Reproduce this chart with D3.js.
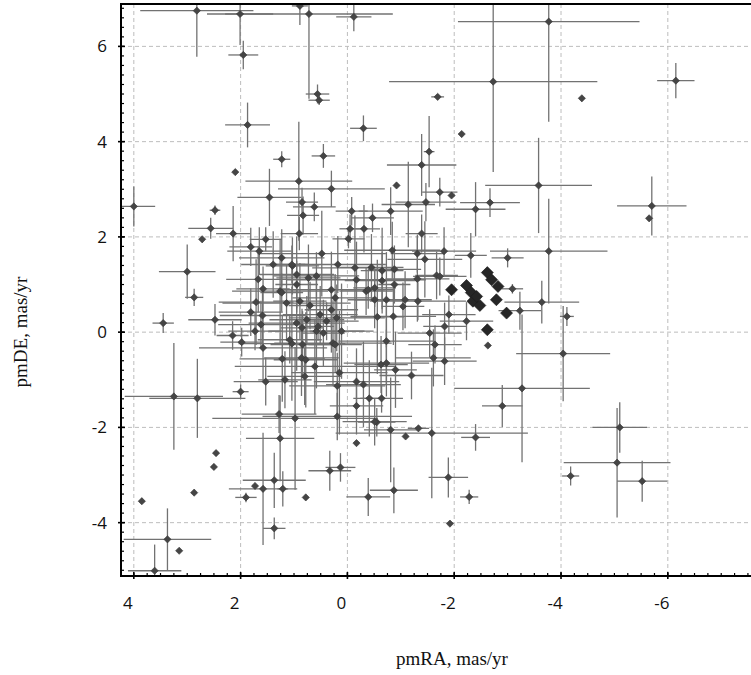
<!DOCTYPE html>
<html>
<head>
<meta charset="utf-8">
<script src="https://cdn.jsdelivr.net/npm/d3@7"></script>
<style>
  html, body { margin: 0; padding: 0; background: #fff; }
  svg { display: block; }
</style>
</head>
<body>
<svg id="chart" width="751" height="675"></svg>
<script>
// Proper motions of field stars: [pmRA, pmDE, err pmRA, err pmDE] in mas/yr
const fieldStars = [
  [2.82, 6.75, 1.06, 0.97], [2.01, 6.68, 0.62, 0.65], [0.89, 6.85, 0.15, 0.40], [0.72, 6.68, 1.57, 1.78],
  [0.56, 5.00, 0.22, 0.20], [0.53, 4.87, 0.20, 0.10], [-0.12, 6.62, 0.33, 0.30], [1.95, 5.82, 0.28, 0.30],
  [1.87, 4.35, 0.42, 0.47], [2.10, 3.36, 0, 0], [1.23, 3.63, 0.16, 0.17], [0.91, 3.17, 1.00, 1.25],
  [0.45, 3.70, 0.22, 0.25], [1.46, 2.83, 0.60, 0.60], [0.30, 3.01, 1.00, 0.38], [4.00, 2.64, 0.40, 0.42],
  [-3.77, 6.52, 1.70, 2.10], [-2.73, 5.26, 1.95, 1.90], [-1.69, 4.94, 0.12, 0], [-0.30, 4.28, 0.25, 0.27],
  [-2.14, 4.16, 0, 0], [-1.53, 3.79, 0.10, 0.75], [-1.39, 3.51, 0.65, 0.65], [-0.92, 3.08, 0, 0],
  [-3.58, 3.08, 1.00, 1.00], [-1.73, 2.94, 0.33, 0.30], [-1.95, 2.87, 0, 0], [-6.15, 5.28, 0.35, 0.37],
  [-4.39, 4.91, 0, 0], [-5.70, 2.65, 0.65, 0.62], [-5.65, 2.39, 0, 0], [-4.11, 0.33, 0.13, 0.20],
  [-4.04, -0.45, 0.88, 1.00], [-3.77, 1.70, 1.10, 1.10], [-5.10, -2.00, 0.51, 0.53], [-5.05, -2.74, 1.00, 1.15],
  [-5.52, -3.13, 0.47, 0.43], [-4.18, -3.02, 0.16, 0.20], [-3.27, -1.18, 1.27, 1.55], [-2.90, -1.55, 0.38, 0.44],
  [-2.40, -2.21, 0.27, 0.28], [-1.89, -3.05, 0.37, 0.42], [-2.28, -3.46, 0.17, 0.15], [-1.92, -4.02, 0, 0],
  [-1.58, -2.12, 1.80, 1.37], [-1.09, -2.19, 0, 0], [-1.33, -2.02, 0.20, 0], [-0.81, -2.05, 0.50, 1.10],
  [-0.55, -1.89, 0.35, 0.30], [-0.17, -2.33, 0, 0], [0.19, -1.77, 1.40, 0.50], [-0.39, -3.46, 0.41, 0.40],
  [-0.87, -3.32, 0.45, 0.48], [-0.41, -1.39, 0.30, 0.80], [-0.64, -1.39, 0.40, 0.30], [-0.17, -1.55, 0.50, 0.60],
  [-0.30, -1.10, 0.70, 0.90], [0.19, -1.13, 0.90, 0.70], [0.13, -2.84, 0.28, 0.30], [0.33, -2.91, 0.40, 0.42],
  [3.25, -1.35, 0.92, 1.12], [2.81, -1.39, 0.90, 0.83], [2.00, -1.25, 0.15, 0.15], [2.46, -2.54, 0, 0],
  [2.50, -2.83, 0, 0], [3.85, -3.55, 0, 0], [2.87, -3.37, 0, 0], [3.37, -4.35, 0.82, 0.65],
  [3.15, -4.59, 0, 0], [3.61, -5.01, 0.50, 0.55], [1.90, -3.47, 0.20, 0.10], [1.73, -3.23, 0, 0],
  [1.58, -3.29, 0.64, 1.18], [1.37, -3.11, 0.59, 0.58], [1.21, -3.29, 0.10, 0.37], [1.37, -4.12, 0.21, 0.23],
  [0.78, -3.47, 0, 0], [1.26, -2.23, 0.64, 0.90], [1.28, -1.72, 0.70, 0.40], [0.98, -1.81, 1.55, 1.50],
  [1.53, -1.04, 0.60, 0.50], [1.17, -1.00, 0.50, 0.60], [2.48, 2.56, 0.10, 0.10], [2.56, 2.18, 0.42, 0.22],
  [2.72, 1.95, 0, 0], [2.14, 2.07, 0.32, 0.58], [3.00, 1.27, 0.53, 0.57], [2.87, 0.73, 0.17, 0.18],
  [3.45, 0.19, 0.20, 0.21], [2.48, 0.26, 0.50, 0.33], [2.15, -0.07, 0.30, 0.30], [1.98, -0.21, 0.40, 0.30],
  [0.85, 2.73, 0.30, 0.30], [0.62, 2.63, 0.40, 0.30], [0.83, 2.45, 0.30, 0.40], [0.90, 2.07, 0.35, 0.35],
  [1.53, 1.95, 0.30, 0.25], [1.81, 1.79, 0.40, 0.40], [1.65, 1.70, 0.60, 0.50], [1.23, 1.56, 0.80, 0.60],
  [1.39, 1.42, 0.60, 0.70], [1.03, 1.39, 0.50, 0.60], [0.95, 1.21, 0.70, 0.80], [0.48, 1.65, 1.20, 0.90],
  [0.18, 1.42, 0.90, 0.60], [1.67, 1.11, 0.60, 0.70], [1.58, 0.91, 0.50, 0.47], [1.26, 0.86, 0.90, 1.10],
  [0.73, 1.14, 0.60, 0.70], [0.58, 1.18, 0.80, 0.50], [0.30, 0.89, 1.00, 0.80], [1.59, 0.35, 0.80, 0.60],
  [1.81, 0.42, 0.60, 0.50], [1.71, 0.63, 0.70, 0.90], [1.14, 0.61, 1.20, 0.80], [0.95, 0.19, 0.90, 1.00],
  [1.58, -0.33, 1.20, 0.70], [1.22, -0.56, 0.80, 0.90], [1.04, -0.24, 1.00, 1.20], [0.86, -0.54, 0.70, 0.80],
  [0.61, -0.72, 1.50, 1.00], [0.27, -0.23, 1.10, 0.90], [0.15, -0.85, 0.90, 1.30], [1.73, 0.02, 0.50, 0.40],
  [1.62, 0.16, 0.80, 0.50], [-0.08, 2.54, 0.30, 0.30], [-0.47, 2.40, 0.40, 0.30], [-0.31, 2.17, 0.30, 0.50],
  [-0.05, 2.17, 0.20, 0.30], [-0.02, 1.96, 0.30, 0.20], [-0.81, 2.54, 0.60, 0.50], [-1.14, 2.68, 0.50, 0.90],
  [-1.39, 2.07, 0.30, 0.40], [-0.84, 1.72, 0.90, 0.60], [-1.45, 1.53, 0.70, 0.80], [-0.14, 1.35, 0.80, 1.10],
  [-0.45, 1.36, 0.60, 0.70], [-0.65, 1.29, 0.40, 0.90], [-0.88, 1.32, 0.50, 0.50], [-1.31, 1.12, 0.60, 0.90],
  [-1.67, 1.19, 0.40, 0.50], [-0.65, 1.08, 0.70, 0.60], [-0.88, 1.00, 0.30, 0.40], [-0.17, 1.10, 1.30, 0.80],
  [-0.35, 0.86, 0.50, 0.50], [-0.51, 0.93, 0.40, 0.40], [-0.73, 0.68, 0.60, 1.00], [-1.08, 0.68, 0.50, 0.60],
  [-1.32, 0.65, 0.90, 0.40], [-1.04, 0.54, 0.40, 0.50], [-0.86, 0.33, 0.80, 0.60], [-0.56, 0.32, 0.50, 1.20],
  [-1.54, -0.02, 0.60, 0.50], [-1.64, -0.26, 0.50, 0.40], [-0.73, -0.19, 0.90, 0.90], [-0.63, -0.68, 0.50, 0.60],
  [-0.73, -0.65, 0.80, 0.70], [-0.90, -0.79, 0.40, 0.80], [-1.20, -0.91, 0.60, 0.50], [-1.61, -0.54, 0.70, 0.60],
  [-0.17, -1.04, 0.80, 0.70], [-0.51, -1.88, 0.60, 0.50], [0.78, -0.58, 0.60, 1.00], [0.80, -0.93, 0.70, 0.60],
  [0.84, -0.26, 0.60, 0.70], [0.58, 0.02, 0.90, 1.20], [0.23, -0.26, 0.50, 0.60], [0.76, 0.26, 0.70, 0.50],
  [0.89, 0.65, 0.50, 0.80], [1.23, 0.83, 0.40, 0.40], [0.70, 0.56, 0.40, 0.50], [0.51, 0.37, 0.70, 0.60],
  [0.30, 0.47, 0.50, 0.90], [0.39, 0.23, 0.60, 0.40], [0.45, -0.02, 0.40, 0.70], [0.55, 0.12, 0.30, 0.30],
  [0.23, 0.72, 0.80, 0.50], [0.95, 1.00, 0.40, 0.50], [1.04, 1.42, 0.30, 0.40], [-0.39, 0.89, 0.50, 0.40],
  [-0.51, 0.68, 0.50, 0.60], [0.20, 0.30, 0.90, 0.70], [0.11, 0.02, 0.60, 1.00], [1.08, -0.16, 0.60, 0.50],
  [0.85, 0.09, 0.40, 0.40], [-1.47, 2.73, 0.57, 0.40], [-2.67, 2.72, 0.56, 0.30], [-2.40, 2.58, 0.56, 0.57],
  [-1.31, 1.65, 0.50, 0.40], [-1.81, 1.70, 0.60, 0.50], [-2.31, 1.61, 0.30, 0.47], [-3.00, 1.56, 0.30, 0.20],
  [-3.09, 0.91, 0.20, 0.10], [-3.23, 0.45, 0.40, 0.40], [-3.64, 0.63, 0.70, 0.45], [-1.73, 1.17, 0.50, 0.40],
  [-1.90, 0.37, 0.50, 0.40], [-1.82, 0.12, 0.40, 0.50], [-2.23, 0.23, 0.50, 0.40], [-1.82, -0.61, 0.60, 0.50],
  [-2.63, -0.28, 0, 0]
];

// Probable cluster members: [pmRA, pmDE]
const memberStars = [
  [-1.95, 0.89], [-2.23, 0.98], [-2.32, 0.83], [-2.35, 0.65], [-2.48, 0.56], [-2.62, 1.25],
  [-2.70, 1.10], [-2.82, 0.96], [-2.79, 0.68], [-2.98, 0.40], [-2.62, 0.05], [-2.42, 0.75]
];

const xTicks = [4, 2, 0, -2, -4, -6];
const yTicks = [-4, -2, 0, 2, 4, 6];
const xDomain = [4.24, -8.7];
const yDomain = [-5.12, 6.89];
const xTitle = "pmRA, mas/yr";
const yTitle = "pmDE, mas/yr";

const svg = d3.select("#chart");
// the frame runs past the right edge of the page
const plot = { left: 121, right: 812, top: 4, bottom: 576 };

const x = d3.scaleLinear().domain(xDomain).range([plot.left, plot.right]);
const y = d3.scaleLinear().domain(yDomain).range([plot.bottom, plot.top]);

svg.append("defs").append("clipPath").attr("id", "plotClip")
  .append("rect")
  .attr("x", plot.left).attr("y", plot.top)
  .attr("width", plot.right - plot.left).attr("height", plot.bottom - plot.top);

// dashed major grid
const grid = svg.append("g").attr("stroke", "#bdbdbd").attr("stroke-width", 1)
  .attr("stroke-dasharray", "4,3");
grid.selectAll("line.gx").data(xTicks).join("line")
  .attr("x1", d => x(d)).attr("x2", d => x(d))
  .attr("y1", plot.top).attr("y2", plot.bottom);
grid.selectAll("line.gy").data(yTicks).join("line")
  .attr("x1", plot.left).attr("x2", plot.right)
  .attr("y1", d => y(d)).attr("y2", d => y(d));

const marks = svg.append("g").attr("clip-path", "url(#plotClip)");

// error bars
const bars = marks.append("g").attr("stroke", "#727272").attr("stroke-width", 1.3);
bars.selectAll("line.ex").data(fieldStars.filter(d => d[2] > 0)).join("line")
  .attr("x1", d => x(d[0] - d[2])).attr("x2", d => x(d[0] + d[2]))
  .attr("y1", d => y(d[1])).attr("y2", d => y(d[1]));
bars.selectAll("line.ey").data(fieldStars.filter(d => d[3] > 0)).join("line")
  .attr("x1", d => x(d[0])).attr("x2", d => x(d[0]))
  .attr("y1", d => y(d[1] - d[3])).attr("y2", d => y(d[1] + d[3]));

const diamond = d3.symbol().type(d3.symbolSquare);

marks.append("g").selectAll("path").data(fieldStars).join("path")
  .attr("d", diamond.size(26)())
  .attr("transform", d => `translate(${x(d[0])},${y(d[1])}) rotate(45)`)
  .attr("fill", "#454545").attr("stroke", "#383838").attr("stroke-width", 0.6);

marks.append("g").selectAll("path").data(memberStars).join("path")
  .attr("d", diamond.size(72)())
  .attr("transform", d => `translate(${x(d[0])},${y(d[1])}) rotate(45)`)
  .attr("fill", "#262626").attr("stroke", "#1c1c1c").attr("stroke-width", 0.6);

// frame
const frame = svg.append("g").attr("stroke", "#000").attr("fill", "none");
frame.append("rect")
  .attr("x", plot.left).attr("y", plot.top)
  .attr("width", plot.right - plot.left).attr("height", plot.bottom - plot.top)
  .attr("stroke-width", 2);

// minor and major ticks
const xMinor = d3.range(Math.ceil(xDomain[1] * 4), Math.floor(xDomain[0] * 4) + 1).map(v => v / 4);
const yMinor = d3.range(Math.ceil(yDomain[0] * 5), Math.floor(yDomain[1] * 5) + 1).map(v => v / 5);
frame.selectAll("line.mx").data(xMinor).join("line")
  .attr("x1", d => x(d)).attr("x2", d => x(d))
  .attr("y1", plot.bottom).attr("y2", plot.bottom - 3).attr("stroke-width", 1.2);
frame.selectAll("line.my").data(yMinor).join("line")
  .attr("x1", plot.left).attr("x2", plot.left + 3)
  .attr("y1", d => y(d)).attr("y2", d => y(d)).attr("stroke-width", 1.2);
frame.selectAll("line.Mx").data(xTicks).join("line")
  .attr("x1", d => x(d)).attr("x2", d => x(d))
  .attr("y1", plot.bottom + 3).attr("y2", plot.bottom - 4).attr("stroke-width", 1.6);
frame.selectAll("line.My").data(yTicks).join("line")
  .attr("x1", plot.left - 3).attr("x2", plot.left + 4)
  .attr("y1", d => y(d)).attr("y2", d => y(d)).attr("stroke-width", 1.6);

// tick labels
const tickFont = "'Open Sans', 'DejaVu Sans', sans-serif";
svg.append("g").selectAll("text").data(xTicks).join("text")
  .attr("x", d => x(d) - 6).attr("y", 609)
  .attr("text-anchor", "middle")
  .attr("font-family", tickFont).attr("font-size", 17).attr("fill", "#111")
  .text(d => d);
svg.append("g").selectAll("text").data(yTicks).join("text")
  .attr("x", 107).attr("y", d => y(d) + 6)
  .attr("text-anchor", "end")
  .attr("font-family", tickFont).attr("font-size", 17).attr("fill", "#111")
  .text(d => d);

// axis titles
svg.append("text")
  .attr("x", 452).attr("y", 665)
  .attr("text-anchor", "middle")
  .attr("font-family", "'Liberation Serif', 'Times New Roman', serif")
  .attr("font-size", 19).attr("fill", "#111")
  .text(xTitle);
svg.append("text")
  .attr("transform", "translate(27,332) rotate(-90)")
  .attr("text-anchor", "middle")
  .attr("font-family", "'Liberation Serif', 'Times New Roman', serif")
  .attr("font-size", 19).attr("fill", "#111")
  .text(yTitle);
</script>
</body>
</html>
